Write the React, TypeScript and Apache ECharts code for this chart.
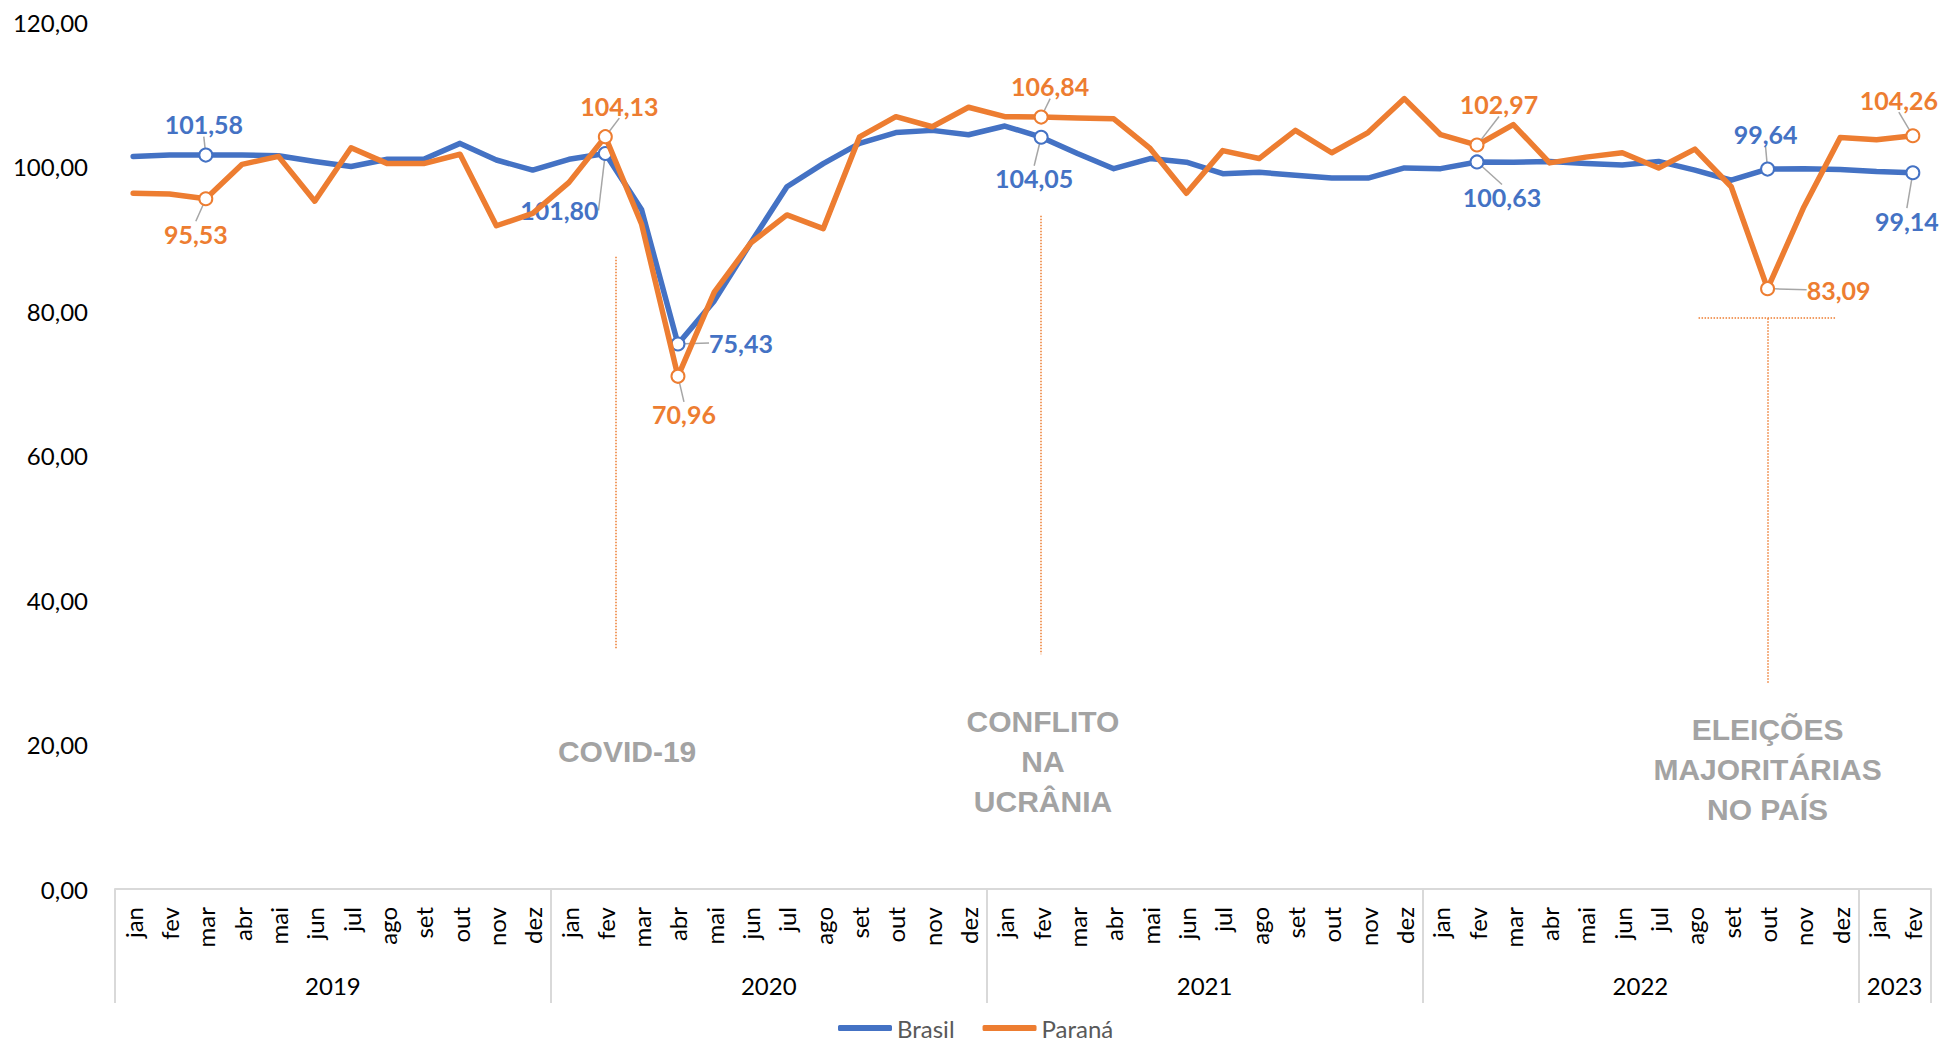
import React, { useEffect, useRef } from 'react';
import * as echarts from 'echarts';

// ---------- data ----------
const years = ['2019', '2020', '2021', '2022', '2023'];
const monthsPerYear = [12, 12, 12, 12, 2];
const monthNames = ['jan', 'fev', 'mar', 'abr', 'mai', 'jun', 'jul', 'ago', 'set', 'out', 'nov', 'dez'];

const brasil = [
  101.4, 101.6, 101.58, 101.6, 101.5, 100.7, 100.0, 101.0, 101.0, 103.2, 100.9, 99.5,
  101.0, 101.8, 94.0, 75.43, 81.4, 89.4, 97.2, 100.4, 103.2, 104.7, 105.0, 104.4,
  105.6, 104.05, 101.8, 99.7, 101.1, 100.6, 99.0, 99.2, 98.8, 98.4, 98.4, 99.8,
  99.7, 100.63, 100.6, 100.7, 100.4, 100.2, 100.7, 99.5, 98.1, 99.64, 99.7, 99.6,
  99.3, 99.14,
];
const parana = [
  96.3, 96.2, 95.53, 100.3, 101.4, 95.2, 102.6, 100.4, 100.4, 101.7, 91.8, 93.5,
  97.8, 104.13, 92.0, 70.96, 82.6, 89.4, 93.3, 91.4, 104.1, 106.9, 105.5, 108.2,
  106.9, 106.84, 106.7, 106.6, 102.5, 96.3, 102.2, 101.1, 105.0, 101.9, 104.7, 109.4,
  104.4, 102.97, 105.8, 100.5, 101.3, 101.9, 99.8, 102.4, 97.2, 83.09, 94.4, 104.0,
  103.7, 104.26,
];
const highlighted = [2, 13, 15, 25, 37, 45, 49];
const seriesNames = ['Brasil', 'Paraná'];
const yMin = 0;
const yMax = 120;
const yStep = 20;

// annotation events (data coordinates: month index, value)
const events = [
  { text: 'COVID-19', x: 13.6, y: 19.0 },
  { text: 'CONFLITO\nNA\nUCRÂNIA', x: 25.05, y: 17.7 },
  { text: 'ELEIÇÕES\nMAJORITÁRIAS\nNO PAÍS', x: 45.0, y: 16.5 },
];
const eventLines = [
  { x1: 13.3, y1: 87.5, x2: 13.3, y2: 33.1 },
  { x1: 25.0, y1: 93.2, x2: 25.0, y2: 32.5 },
  { x1: 45.0, y1: 79.0, x2: 45.0, y2: 28.5 },
  { x1: 43.1, y1: 79.0, x2: 46.9, y2: 79.0 },
];

// ---------- styling (label offsets in px) ----------
const COLORS = ['#4472C4', '#ED7D31'];
const labelOffsets: Record<number, [number, number]>[] = [
  { 2: [-2, -31], 13: [-46, 57], 15: [63, -1], 25: [-7, 41], 37: [25, 35], 45: [-2, -35], 49: [-6, 48] },
  { 2: [-10, 35], 13: [14, -31], 15: [6, 38], 25: [9, -31], 37: [22, -41], 45: [71, 1], 49: [-14, -36] },
];

const fmt = (v: number) => v.toFixed(2).replace('.', ',');

function buildCategories() {
  const cats: string[] = [];
  years.forEach((y, yi) => {
    for (let m = 0; m < monthsPerYear[yi]; m++) cats.push(monthNames[m] + '/' + y);
  });
  return cats;
}

export default function App() {
  const ref = useRef<HTMLDivElement>(null);
  useEffect(() => {
    if (!ref.current) return;
    const chart = echarts.init(ref.current, undefined, { renderer: 'svg' });
    const categories = buildCategories();
    const n = categories.length;

    // half-month slots for the year level axis
    const slots: string[] = [];
    for (let i = 0; i <= 2 * n; i++) slots.push(String(i));
    const boundarySlots = new Set<number>();
    const yearCenter: Record<number, string> = {};
    let start = 0;
    years.forEach((y, yi) => {
      boundarySlots.add(2 * start);
      yearCenter[2 * start + monthsPerYear[yi]] = y;
      start += monthsPerYear[yi];
    });
    boundarySlots.add(2 * start);

    const makeSeries = (vals: number[], si: number) => ({
      name: seriesNames[si],
      type: 'line',
      color: COLORS[si],
      xAxisIndex: 0,
      yAxisIndex: 0,
      symbol: 'circle',
      symbolSize: 13,
      showSymbol: true,
      lineStyle: { color: COLORS[si], width: 5.5, join: 'round', cap: 'round' },
      labelLine: { show: true, lineStyle: { color: '#A6A6A6', width: 1.5 } },
      labelLayout: (p: any) => {
        const off = labelOffsets[si][p.dataIndex];
        return off ? { dx: off[0], dy: off[1], hideOverlap: false } : {};
      },
      data: vals.map((v, i) => {
        if (!highlighted.includes(i)) return { value: v, symbol: 'none' };
        return {
          value: v,
          symbol: 'circle',
          itemStyle: { color: '#FFFFFF', borderColor: COLORS[si], borderWidth: 2 },
          label: {
            show: true,
            position: 'inside',
            formatter: () => fmt(v),
            color: COLORS[si],
            fontFamily: 'Lato',
            fontWeight: 'bold',
            fontSize: 25,
          },
        };
      }),
      z: 2 + si,
    });

    const annotationSeries: any = {
      name: 'annotations',
      type: 'line',
      xAxisIndex: 2,
      yAxisIndex: 0,
      data: [],
      silent: true,
      markLine: {
        silent: true,
        symbol: ['none', 'none'],
        label: { show: false },
        lineStyle: { type: 'dotted', color: '#ED7D31', width: 1.5 },
        data: eventLines.map((l) => [{ coord: [l.x1, l.y1] }, { coord: [l.x2, l.y2] }]),
      },
      markPoint: {
        silent: true,
        symbol: 'circle',
        symbolSize: 1,
        itemStyle: { color: 'rgba(0,0,0,0)' },
        label: {
          show: true,
          position: 'inside',
          color: '#A3A3A3',
          fontFamily: 'Liberation Sans',
          fontWeight: 'bold',
          fontSize: 30,
          lineHeight: 40,
          align: 'center',
          formatter: (p: any) => p.name,
        },
        data: events.map((e) => ({ name: e.text, coord: [e.x, e.y] })),
      },
    };

    chart.setOption({
      animation: false,
      backgroundColor: '#FFFFFF',
      textStyle: { fontFamily: 'Lato' },
      grid: { left: 115, right: 11, top: 22, bottom: 152 },
      legend: {
        data: seriesNames,
        left: 838,
        top: 1016,
        padding: 0,
        icon: 'roundRect',
        itemWidth: 54,
        itemHeight: 6,
        itemGap: 28,
        textStyle: { color: '#595959', fontSize: 24, lineHeight: 24, fontFamily: 'Lato' },
      },
      xAxis: [
        {
          type: 'category',
          data: categories,
          boundaryGap: true,
          position: 'bottom',
          axisLine: { show: true, lineStyle: { color: '#D9D9D9', width: 2 } },
          axisTick: { show: false },
          splitLine: { show: false },
          axisLabel: {
            interval: 0,
            rotate: 90,
            margin: 18,
            fontSize: 24,
            fontFamily: 'Lato',
            color: '#000000',
            formatter: (v: string) => v.split('/')[0],
          },
        },
        {
          type: 'category',
          data: slots,
          boundaryGap: false,
          position: 'bottom',
          axisLine: { show: false },
          axisTick: {
            show: true,
            length: 114,
            interval: (idx: number) => boundarySlots.has(idx),
            lineStyle: { color: '#D9D9D9', width: 2 },
          },
          splitLine: { show: false },
          axisLabel: {
            interval: 0,
            margin: 84,
            fontSize: 24,
            fontFamily: 'Lato',
            color: '#000000',
            formatter: (_v: string, idx: number) => yearCenter[idx] || '',
          },
        },
        {
          type: 'value',
          show: false,
          position: 'bottom',
          min: -0.5,
          max: n - 0.5,
          splitLine: { show: false },
        },
      ],
      yAxis: {
        type: 'value',
        min: yMin,
        max: yMax,
        interval: yStep,
        axisLine: { show: false },
        axisTick: { show: false },
        splitLine: { show: false },
        axisLabel: {
          margin: 27,
          fontSize: 24,
          fontFamily: 'Lato',
          color: '#000000',
          formatter: (v: number) => fmt(v),
        },
      },
      series: [makeSeries(brasil, 0), makeSeries(parana, 1), annotationSeries],
    });
    return () => chart.dispose();
  }, []);
  return (
    <div
      ref={ref}
      style={{ position: 'fixed', left: 0, top: 0, width: 1942, height: 1041, background: '#fff' }}
    />
  );
}
